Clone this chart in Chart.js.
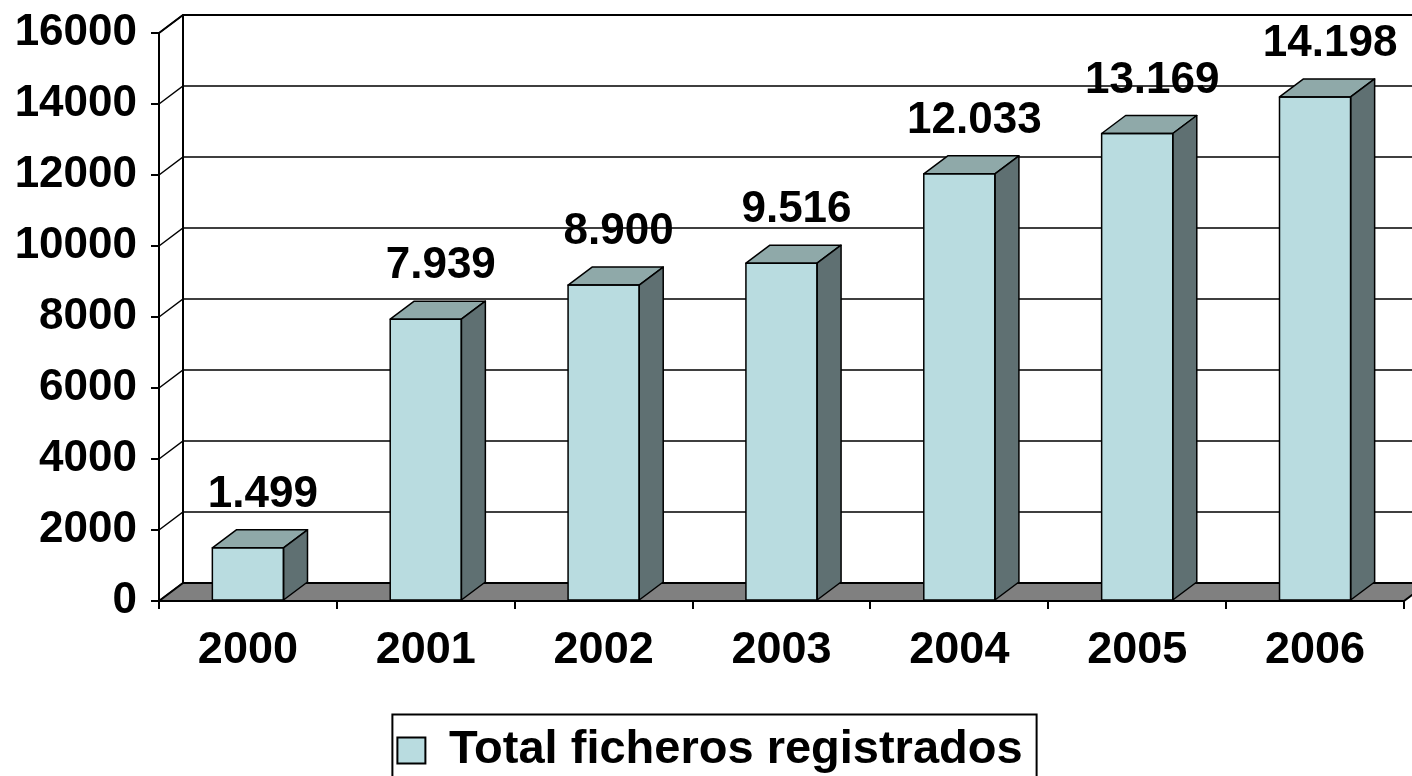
<!DOCTYPE html>
<html><head><meta charset="utf-8">
<script src="https://cdn.jsdelivr.net/npm/chart.js@4.4.0/dist/chart.umd.min.js"></script>
<style>html,body{margin:0;padding:0;background:#fff;overflow:hidden}#wrap{width:1412px;height:776px;position:relative}</style>
</head><body><div id="wrap"><canvas id="c"></canvas></div>
<script>
const categories = ['2000', '2001', '2002', '2003', '2004', '2005', '2006'];
const values = [1499, 7939, 8900, 9516, 12033, 13169, 14198];
const seriesName = 'Total ficheros registrados';
const yMin = 0, yMax = 16000, yStep = 2000;

const FONT = '"Liberation Sans", Arial, sans-serif';
const DX = 24, DY = -18;
const COL = {front: '#B9DCE0', top: '#8FA9A9', side: '#5F7072', floor: '#808080', line: '#000'};

function fmt(v) { return String(v).replace(/\B(?=(\d{3})+(?!\d))/g, '.'); }

const threeD = {
  id: 'threeD',
  beforeDatasetsDraw(chart) {
    const {ctx, chartArea: a, scales: {y}} = chart;
    const W = chart.width + 50;
    ctx.save();
    ctx.strokeStyle = COL.line;
    ctx.lineWidth = 1.5;
    y.ticks.forEach(t => {
      const py = y.getPixelForValue(t.value);
      ctx.beginPath();
      ctx.moveTo(a.left, py);
      ctx.lineTo(a.left + DX, py + DY);
      ctx.lineTo(W, py + DY);
      ctx.stroke();
    });
    ctx.lineWidth = 2;
    const yTop = y.getPixelForValue(yMax), y0 = y.getPixelForValue(0);
    ctx.beginPath();
    ctx.moveTo(a.left + DX, yTop + DY);
    ctx.lineTo(a.left + DX, y0 + DY);
    ctx.stroke();
    ctx.beginPath();
    ctx.moveTo(a.left, yTop);
    ctx.lineTo(a.left + DX, yTop + DY);
    ctx.lineTo(W, yTop + DY);
    ctx.stroke();
    ctx.beginPath();
    ctx.moveTo(a.left, y0);
    ctx.lineTo(a.right, y0);
    ctx.lineTo(a.right + DX, y0 + DY);
    ctx.lineTo(a.left + DX, y0 + DY);
    ctx.closePath();
    ctx.fillStyle = COL.floor;
    ctx.fill();
    ctx.stroke();
    ctx.beginPath();
    ctx.moveTo(a.left, yTop);
    ctx.lineTo(a.left, y0);
    ctx.stroke();
    ctx.restore();
  },
  afterDatasetsDraw(chart) {
    const {ctx} = chart;
    const meta = chart.getDatasetMeta(0);
    ctx.save();
    ctx.strokeStyle = COL.line;
    ctx.lineWidth = 1.5;
    ctx.lineJoin = 'round';
    meta.data.forEach((bar, i) => {
      const p = bar.getProps(['x', 'y', 'base', 'width'], true);
      const l = p.x - p.width / 2, r = p.x + p.width / 2;
      ctx.beginPath();
      ctx.moveTo(l, p.y); ctx.lineTo(r, p.y);
      ctx.lineTo(r + DX, p.y + DY); ctx.lineTo(l + DX, p.y + DY);
      ctx.closePath();
      ctx.fillStyle = COL.top; ctx.fill(); ctx.stroke();
      ctx.beginPath();
      ctx.moveTo(r, p.y); ctx.lineTo(r + DX, p.y + DY);
      ctx.lineTo(r + DX, p.base + DY); ctx.lineTo(r, p.base);
      ctx.closePath();
      ctx.fillStyle = COL.side; ctx.fill(); ctx.stroke();
      ctx.strokeRect(l, p.y, p.width, p.base - p.y);
      ctx.fillStyle = '#000';
      ctx.font = 'bold 44px ' + FONT;
      ctx.textAlign = 'center';
      ctx.textBaseline = 'alphabetic';
      ctx.fillText(fmt(values[i]), p.x + 15, p.y - 41);
    });
    ctx.restore();
  },
  afterDraw(chart) {
    const lg = chart.legend;
    const {ctx} = chart;
    if (lg && lg.legendHitBoxes && lg.legendHitBoxes.length) {
      const hb = lg.legendHitBoxes[0];
      const cy = hb.top + hb.height / 2;
      ctx.save();
      ctx.strokeStyle = '#000';
      ctx.lineWidth = 2;
      ctx.strokeRect(hb.left - 5, cy - 36, hb.width + 19, 120);
      ctx.restore();
    }
  }
};

new Chart(document.getElementById('c'), {
  type: 'bar',
  data: {
    labels: categories,
    datasets: [{
      label: seriesName,
      data: values,
      backgroundColor: COL.front,
      borderColor: COL.line,
      borderWidth: 0,
      barPercentage: 0.4,
      categoryPercentage: 1.0
    }]
  },
  options: {
    responsive: true,
    maintainAspectRatio: false,
    animation: false,
    layout: {padding: {left: 16, right: 8, top: 33, bottom: -8}},
    plugins: {
      tooltip: {enabled: false},
      legend: {
        position: 'bottom',
        labels: {
          color: '#000',
          font: {family: FONT, size: 47, weight: 'bold'},
          boxWidth: 28,
          boxHeight: 26,
          padding: 10,
          generateLabels: (chart) => [{
            text: seriesName, fillStyle: COL.front, strokeStyle: '#000', lineWidth: 2,
            hidden: false, datasetIndex: 0
          }]
        }
      }
    },
    scales: {
      x: {
        grid: {offset: true, drawOnChartArea: false, drawTicks: true, tickLength: 8, color: '#000', lineWidth: 2},
        border: {display: true, color: '#000', width: 2},
        ticks: {color: '#000', font: {family: FONT, size: 45, weight: 'bold'}, padding: 15, maxRotation: 0, autoSkip: false},
        afterFit: (s) => { s.height = 116; }
      },
      y: {
        min: yMin, max: yMax,
        grid: {drawOnChartArea: false, drawTicks: true, tickLength: 8, color: '#000', lineWidth: 2},
        border: {display: true, color: '#000', width: 2},
        ticks: {stepSize: yStep, color: '#000', font: {family: FONT, size: 44, weight: 'bold', lineHeight: 0.8}, padding: 14,
          callback: (v) => String(v)},
        afterFit: (s) => { s.width = 143; }
      }
    }
  },
  plugins: [threeD]
});
</script>
</body></html>
